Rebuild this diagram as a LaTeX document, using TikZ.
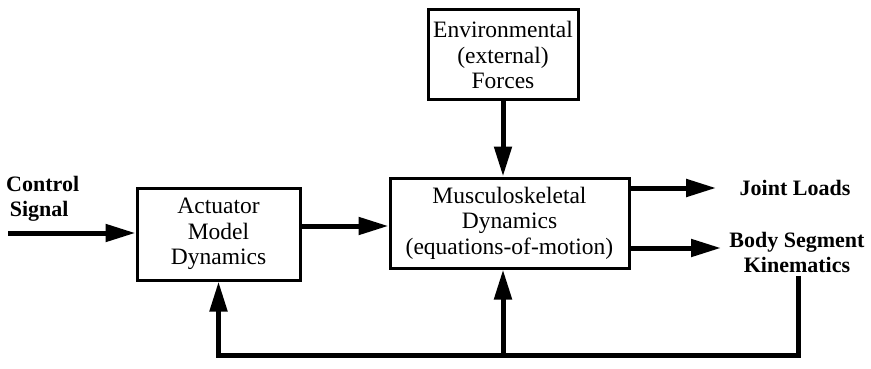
\documentclass[tikz,border=0pt]{standalone}
\usepackage{fontspec}
\setmainfont{Liberation Serif}
\usetikzlibrary{arrows.meta}

\tikzset{
	block/.style={draw, line width=3pt, align=center, inner sep=0pt,
		font=\fontsize{23.5}{25.5}\selectfont},
	label/.style={align=center, font=\fontsize{22}{25}\selectfont\bfseries},
	flow/.style={line width=5pt, -{Triangle[length=30pt,width=17pt]}},
	wire/.style={line width=5pt}
}

\begin{document}
\begin{tikzpicture}[x=1pt,y=-1pt]
		\useasboundingbox (0,0) rectangle (871,369);
		
		% blocks
		\node[block, minimum width=150pt, minimum height=90pt] (env) at (503,55) {Environmental\\(external)\\Forces};
		\node[block, minimum width=239pt, minimum height=90pt] (mus) at (509.5,223) {Musculoskeletal\\Dynamics\\(equations-of-motion)};
		\node[block, minimum width=163pt, minimum height=92pt] (act) at (218.5,234) {Actuator\\Model\\Dynamics};
		
		% inputs and outputs
		\node[label, align=left, anchor=west, inner sep=0pt] (ctrl) at (6,199) {Control\\\,Signal};
		\node[label] (joint) at (795,188) {Joint Loads};
		\node[label] (kin) at (797,252) {Body Segment\\Kinematics};
		
		\coordinate (ctrlin) at (8,233);
		\coordinate (fbr) at (798,355);
		\coordinate (fbl) at (218.5,355);
		
		% signal flow
		\draw[flow] (ctrlin) -- (act.west |- ctrlin);
		\draw[flow] (act.east |- 0,226) -- (mus.west |- 0,226);
		\draw[flow] (env.south) -- (env.south |- mus.north);
		\draw[flow] (mus.east |- joint) -- ([xshift=-20pt]joint.west);
		\draw[flow] (mus.east |- 0,248) -- (721,248);
		
		% feedback loop
		\draw[wire] (kin.south -| fbr) -- (fbr) -- ([xshift=-2.5pt]fbl);
		\draw[flow] (fbl) -- (act.south);
		\draw[flow] (fbl -| env.south) -- (env.south |- mus.south);
		
	\end{tikzpicture}
\end{document}
